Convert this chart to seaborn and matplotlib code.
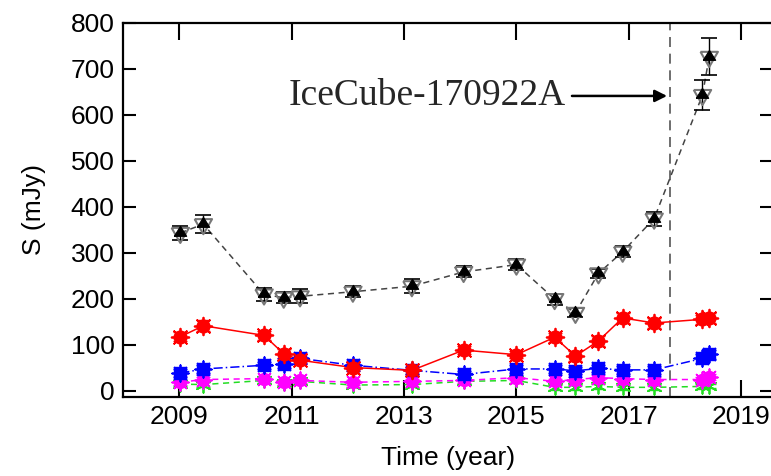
import matplotlib
matplotlib.use("Agg")
import matplotlib.pyplot as plt
import seaborn as sns
import numpy as np
import pandas as pd

years = [2009.02, 2009.43, 2010.51, 2010.86, 2011.15, 2012.09, 2013.14, 2014.06,
         2015.00, 2015.68, 2016.05, 2016.46, 2016.89, 2017.45, 2018.31, 2018.43]
s_black = [343, 362, 209, 202, 205, 215, 227, 258, 274, 199, 169, 255, 302, 374, 643, 726]
e_black = [15, 20, 15, 12, 15, 12, 15, 12, 12, 12, 10, 10, 12, 15, 33, 40]
s_red = [117, 141, 120, 80, 66, 50, 44, 88, 78, 116, 75, 108, 158, 147, 155, 158]
e_red = [10, 12, 10, 10, 8, 8, 8, 8, 8, 10, 10, 10, 10, 10, 10, 10]
s_blue = [38, 47, 55, 58, 70, 55, 44, 35, 47, 47, 43, 48, 45, 45, 70, 79]
e_blue = [8, 8, 8, 8, 10, 8, 8, 8, 8, 8, 8, 8, 8, 8, 10, 10]
s_mag = [18, 24, 26, 18, 22, 18, 20, 22, 28, 20, 24, 28, 26, 24, 24, 30]
e_mag = [6, 6, 6, 6, 6, 6, 6, 6, 6, 6, 6, 6, 6, 6, 6, 6]
s_green = [14, 13, 22, 17, 20, 12, 13, 20, 22, 7, 7, 9, 7, 7, 9, 10]
e_green = [5, 5, 5, 5, 5, 5, 5, 5, 5, 5, 5, 5, 5, 5, 5, 5]

event_year = 2017.73
event_label = "IceCube-170922A"
x_ticks = [2009, 2011, 2013, 2015, 2017, 2019]
y_ticks = [0, 100, 200, 300, 400, 500, 600, 700, 800]

sns.set_theme(style="ticks")
plt.rcParams['font.family'] = ['Liberation Sans', 'DejaVu Sans']

fig = plt.figure(figsize=(7.71, 4.76), dpi=100)
ax = fig.add_axes([0.1595, 0.166, 0.842, 0.786])

tri_down = [(-0.866, 0.5), (0.866, 0.5), (0.0, -1.0), (-0.866, 0.5)]
tri_up = [(-0.866, -0.4), (0.866, -0.4), (0.0, 1.0), (-0.866, -0.4)]

series = [
    ("red", s_red, e_red, "#ff0000", "", "o", 85),
    ("blue", s_blue, e_blue, "#0000ff", (6, 2, 1, 2), "s", 75),
    ("magenta", s_mag, e_mag, "#ff00ff", (4, 3), "o", 75),
    ("green", s_green, e_green, "#22dd22", (4, 3), None, 0),
]

for name, vals, errs, col, dash, mk, sz in series[::-1]:
    df = pd.DataFrame({"year": years, "S": vals})
    ax.errorbar(df["year"], df["S"], yerr=errs, fmt="none", ecolor=col,
                elinewidth=1.0, capsize=5, capthick=1.0, zorder=2)
    sns.lineplot(data=df, x="year", y="S", ax=ax, color=col, linewidth=1.1,
                 dashes=[dash] if dash else None, style=[0]*len(df) if dash else None,
                 legend=False, zorder=3, sort=False)
    if mk is not None:
        sns.scatterplot(data=df, x="year", y="S", ax=ax, color=col, marker=mk,
                        s=sz, edgecolor=col, linewidth=1.0, legend=False, zorder=4)
        sns.scatterplot(data=df, x="year", y="S", ax=ax, color=col, marker=(8, 2, 0),
                        s=sz * 1.9, edgecolor=col, linewidth=1.3, legend=False, zorder=4)
    else:
        sns.scatterplot(data=df, x="year", y="S", ax=ax, color=col, marker=(6, 2, 0),
                        s=110, edgecolor=col, linewidth=1.3, legend=False, zorder=4)

dfb = pd.DataFrame({"year": years, "S": s_black})
sns.lineplot(data=dfb, x="year", y="S", ax=ax, color="#444444", linewidth=1.1,
             dashes=[(4, 3)], style=[0]*len(dfb), legend=False, zorder=3, sort=False)
ax.errorbar(dfb["year"], dfb["S"], yerr=e_black, fmt="none", ecolor="black",
            elinewidth=1.0, capsize=6, capthick=1.2, zorder=5)
sns.scatterplot(data=dfb, x="year", y="S", ax=ax, marker=tri_down, s=210,
                facecolor="none", edgecolor="#777777", linewidth=1.5, legend=False, zorder=6)
sns.scatterplot(data=dfb, x="year", y="S", ax=ax, marker=tri_up, s=105,
                color="black", edgecolor="black", legend=False, zorder=7)

ax.axvline(event_year, color="#555555", linestyle=(0, (6, 4)), linewidth=1.2, zorder=1)
ax.annotate(event_label, xy=(event_year - 0.05, 641), xytext=(2010.95, 641),
            va="center", ha="left", fontsize=27, family=["Liberation Serif"],
            arrowprops=dict(arrowstyle="-|>", color="black", lw=1.8,
                            mutation_scale=18, shrinkA=2, shrinkB=0))

ax.set_xlim(2008.0, 2019.55)
ax.set_ylim(-14, 800)
ax.set_xticks(x_ticks)
ax.set_yticks(y_ticks)
ax.tick_params(axis="both", which="major", direction="in", top=True, right=True,
               labelsize=19, width=1.5, color="black", labelcolor="black", pad=6)
ax.tick_params(axis="x", length=12)
ax.tick_params(axis="y", length=9)
for sp in ax.spines.values():
    sp.set_linewidth(1.6)
    sp.set_color("black")
ax.set_xlabel("Time (year)", fontsize=19, labelpad=12, color="black")
ax.set_ylabel("S (mJy)", fontsize=19, labelpad=18, color="black")

fig.savefig("out.png", dpi=100)
